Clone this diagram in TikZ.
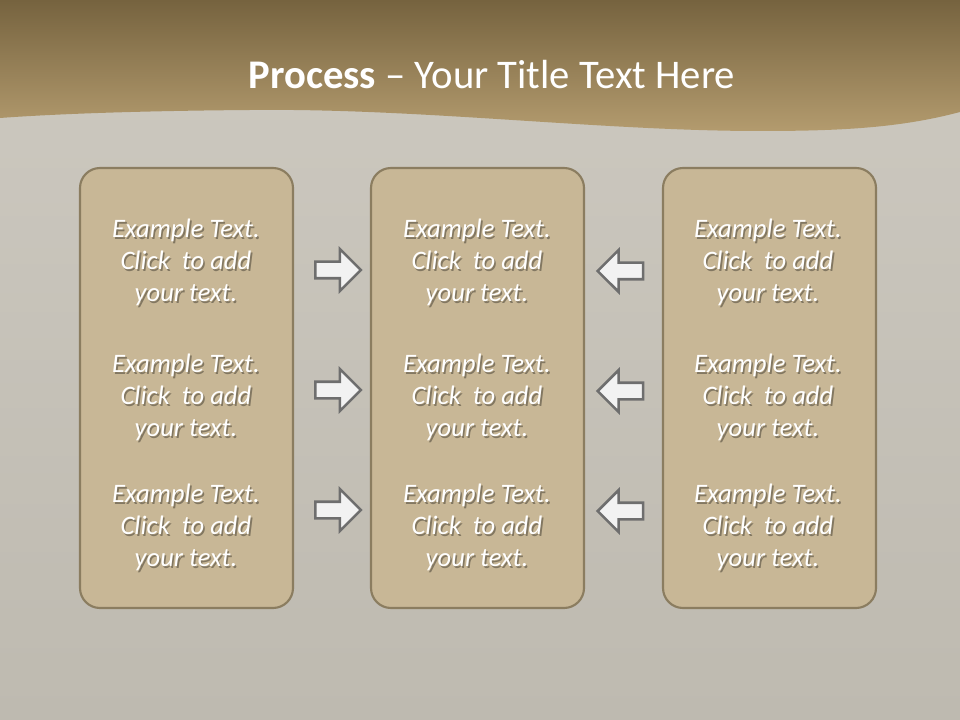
\documentclass[tikz,border=0pt]{standalone}
\usepackage{fontspec}
\setmainfont{Carlito}
\usetikzlibrary{shapes.arrows,shadings}
\definecolor{hdrtop}{HTML}{76633F}
\definecolor{hdrbot}{HTML}{B39B6E}
\definecolor{bgtop}{HTML}{CDC9C0}
\definecolor{bgbot}{HTML}{BEBAB0}
\definecolor{boxfill}{HTML}{C8B796}
\definecolor{boxline}{HTML}{8B7D60}
\definecolor{arrfill}{HTML}{F2F2F2}
\definecolor{arrline}{HTML}{6E6E6E}
\tikzset{
  panel/.style={draw=boxline, line width=1.6pt, fill=boxfill, rounded corners=15pt,
    minimum width=159.75pt, minimum height=330pt, inner sep=0pt},
  bodytxt/.style={text=white, align=center, font=\fontsize{20}{24}\selectfont\itshape, inner sep=0pt},
  bodyshadow/.style={text=black, opacity=0.35, align=center, font=\fontsize{20}{24}\selectfont\itshape, inner sep=0pt},
  blockarrow/.style={single arrow, draw=arrline, line width=1.9pt, fill=arrfill,
    minimum height=34pt, single arrow head extend=9.5pt, single arrow tip angle=90,
    inner xsep=0pt, inner ysep=5.25pt, outer sep=0pt},
}
\newcommand{\bodyblock}[3]{%
  \node[bodyshadow] (#1s) at ([shift={(1.2pt,-1.5pt)}]#2) {#3};
  \node[bodytxt] (#1) at (#2) {#3};}
\begin{document}
\begin{tikzpicture}[x=0.75pt,y=-0.75pt]
\useasboundingbox (0,0) rectangle (960,720);
% background
\shade[top color=bgtop, bottom color=bgbot] (0,0) rectangle (960,720);
\shade[top color=hdrtop, bottom color=hdrbot]
  (0,0) -- (960,0) -- (960,112)
  .. controls (900,128) and (840,131) .. (760,131)
  .. controls (600,131) and (420,108) .. (250,110)
  .. controls (120,111) and (40,115) .. (0,118) -- cycle;
% title
\node[text=white, font=\fontsize{30.5}{34}\selectfont, inner sep=0pt] (title) at (492,75)
  {\textbf{Process} – Your Title Text Here};
% panels
\node[panel] (pl) at (186.5,388) {};
\node[panel] (pm) at (477.5,388) {};
\node[panel] (pr) at (769.5,388) {};
% texts
\foreach \col/\x in {l/186,m/477,r/768}{
  \foreach \row/\y in {1/262,2/397,3/527}{
    \bodyblock{t\col\row}{\x,\y}{Example Text.\\Click~ to add\\your text.}
  }
}
% arrows
\node[blockarrow] (ar1) at (334,270) {};
\node[blockarrow] (ar2) at (334,390) {};
\node[blockarrow] (ar3) at (334,510) {};
\node[blockarrow, shape border rotate=180] (al1) at (624.5,271) {};
\node[blockarrow, shape border rotate=180] (al2) at (624.5,391) {};
\node[blockarrow, shape border rotate=180] (al3) at (624.5,511) {};
\end{tikzpicture}
\end{document}
